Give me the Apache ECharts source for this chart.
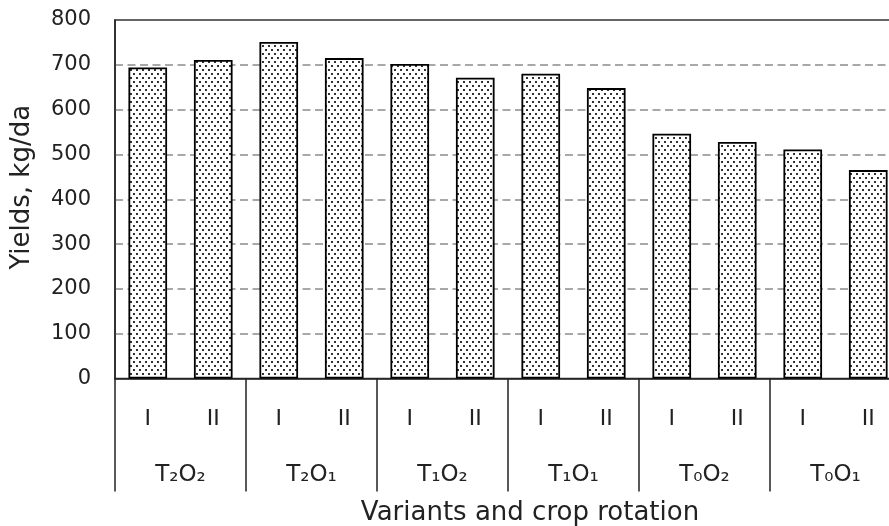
<!DOCTYPE html>
<html><head><meta charset="utf-8">
<script src="https://cdn.jsdelivr.net/npm/echarts@6/dist/echarts.min.js"></script>
<style>html,body{margin:0;padding:0;background:#fff}#c{width:889px;height:526px}</style>
</head><body><div id="c"></div>
<script>
// ---- data ----
const variants = ['T\u2082O\u2082','T\u2082O\u2081','T\u2081O\u2082','T\u2081O\u2081','T\u2080O\u2082','T\u2080O\u2081'];
const rotations = ['I','II','I','II','I','II','I','II','I','II','I','II'];
const yields = [694, 711, 751, 715, 702, 671, 680, 648, 546, 528, 511, 465];
const yMin = 0, yMax = 800, yStep = 100;
const yTitle = 'Yields, kg/da';
const xTitle = 'Variants and crop rotation';

// dotted fill pattern
const pc = document.createElement('canvas');
pc.width = 6; pc.height = 8;
const g = pc.getContext('2d');
g.fillStyle = '#fff'; g.fillRect(0,0,6,8);
g.fillStyle = '#333';
g.fillRect(1,1,2,2);
g.fillRect(4,5,2,2);

const font = 'DejaVu Sans';
const txt = '#222';
const chart = echarts.init(document.getElementById('c'));
chart.setOption({
  animation: false,
  backgroundColor: '#fff',
  grid: { left: 115, width: 786, top: 20, bottom: 147.5, outerBoundsMode: 'none', containLabel: false,
          show: true, borderColor: '#333', borderWidth: 1.5, backgroundColor: 'transparent' },
  xAxis: [
    { type: 'category', data: rotations, position: 'bottom',
      axisLine: { show: true, lineStyle: { color: '#222', width: 1.5 } },
      axisTick: { show: false },
      axisLabel: { margin: 30, fontSize: 22, color: txt, fontFamily: font }
    },
    { type: 'category', data: variants, position: 'bottom', offset: 0,
      axisLine: { show: false },
      axisTick: { show: true, length: 113, lineStyle: { color: '#222', width: 1.5 } },
      axisLabel: { margin: 85, fontSize: 23, color: txt, fontFamily: font },
      name: xTitle, nameLocation: 'middle', nameGap: 122,
      nameTextStyle: { fontSize: 26, color: txt, fontFamily: font, padding: [0,0,0,44] }
    }
  ],
  yAxis: {
    type: 'value', min: yMin, max: yMax, interval: yStep,
    axisLine: { show: true, lineStyle: { color: '#222', width: 1.5 } },
    axisTick: { show: false },
    axisLabel: { margin: 24, fontSize: 21, color: txt, fontFamily: font },
    splitLine: { show: true, showMinLine: false, showMaxLine: false, lineStyle: { color: '#8c8c8c', width: 1.5, type: [8,4.5] } },
    name: yTitle, nameLocation: 'middle', nameGap: 80,
    nameTextStyle: { fontSize: 26, color: txt, fontFamily: font, padding: [0,0,0,24] }
  },
  series: [{
    type: 'bar', xAxisIndex: 0, data: yields, barWidth: '59%',
    itemStyle: { color: { image: pc, repeat: 'repeat' }, borderColor: '#000', borderWidth: 1.8 }
  }]
});
</script></body></html>
